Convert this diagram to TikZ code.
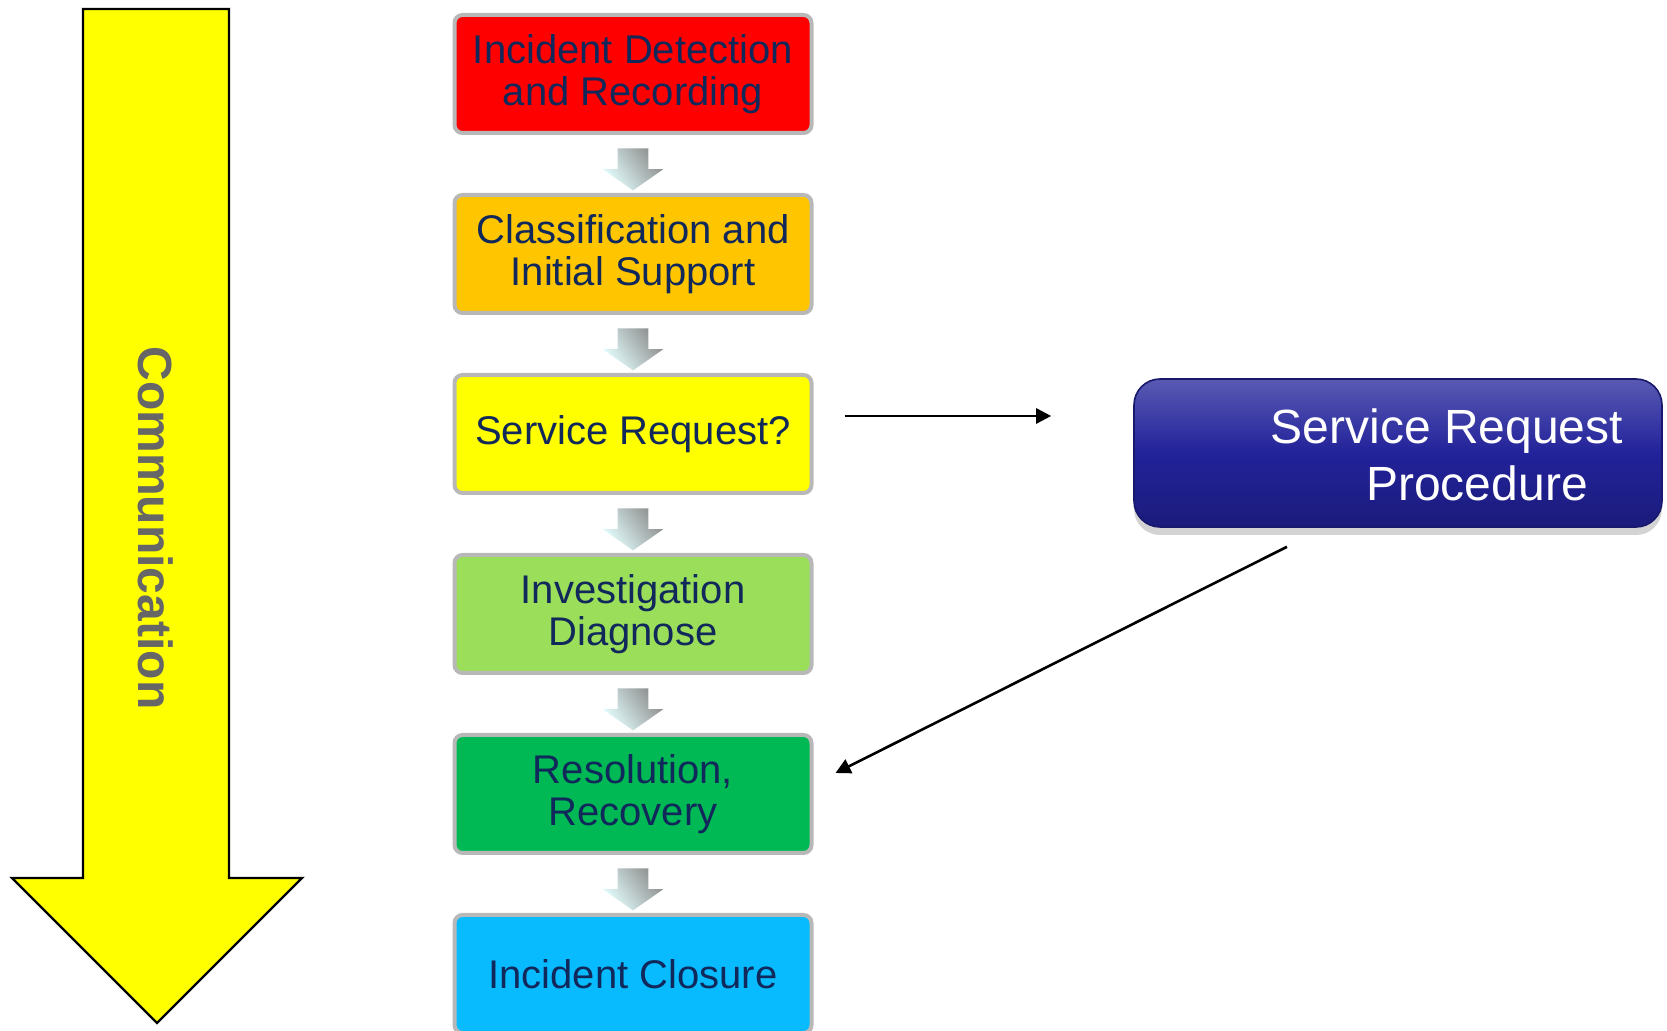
\documentclass[tikz,border=0pt]{standalone}
\usepackage{fontspec}
\setmainfont{Liberation Sans}
\usetikzlibrary{positioning,calc,shapes.arrows,arrows.meta,shadows}
\definecolor{inkblue}{HTML}{10285A}
\definecolor{detectred}{HTML}{FF0000}
\definecolor{classifygold}{HTML}{FFC600}
\definecolor{requestyellow}{HTML}{FFFF00}
\definecolor{diagnosegreen}{HTML}{9BDE5A}
\definecolor{resolvegreen}{HTML}{00B854}
\definecolor{closurecyan}{HTML}{08BBFF}
\definecolor{procblue}{HTML}{22229A}
\definecolor{commgray}{HTML}{666666}
\tikzset{
  stage/.style={draw=black!28, line width=2pt, rounded corners=4pt,
    minimum width=178.5pt, minimum height=59pt, align=center, text=inkblue,
    font=\fontsize{20}{20.75}\selectfont},
  flow/.style={single arrow, shape border rotate=270, draw=none, inner sep=7.5pt,
    minimum height=21pt, single arrow head extend=7.5pt,
    single arrow tip angle=110, shading=axis, left color=cyan!10!white,
    right color=black!45, shading angle=125},
  link/.style={-{Triangle[length=7.5pt,width=7.5pt]}, line width=1.3pt},
}
\begin{document}
\begin{tikzpicture}[x=0.5pt, y=-0.5pt]
  \useasboundingbox (0,0) rectangle (1667,1031);
  % communication arrow
  \draw[fill=requestyellow, line width=1.2pt] (83,9) -- (229,9) -- (229,878) -- (302,878)
    -- (157,1023) -- (12,878) -- (83,878) -- cycle;
  \node[rotate=-90, text=commgray, font=\bfseries\fontsize{24}{24}\selectfont] (comm) at (156,528) {Communication};
  % stages
  \node[stage, fill=detectred] (detect) at (633,74) {Incident Detection\\and Recording};
  \node[stage, fill=classifygold, below=29pt of detect] (classify) {Classification and\\Initial Support};
  \node[stage, fill=requestyellow, below=29pt of classify] (request) {Service Request?};
  \node[stage, fill=diagnosegreen, below=29pt of request] (diagnose) {Investigation\\Diagnose};
  \node[stage, fill=resolvegreen, below=29pt of diagnose] (resolve) {Resolution,\\Recovery};
  \node[stage, fill=closurecyan, below=29pt of resolve] (closure) {Incident Closure};
  \foreach \a/\b in {detect/classify, classify/request, request/diagnose,
                     diagnose/resolve, resolve/closure}
    \node[flow] (\a-\b) at ($(\a.south)!0.5!(\b.north)$) {};
  % service request procedure
  \node[rounded corners=13pt, minimum width=264pt, minimum height=74pt,
    draw=procblue!70!black, line width=0.8pt,
    top color=procblue!75!white, bottom color=procblue!80!black, middle color=procblue,
    drop shadow={shadow xshift=0pt, shadow yshift=-4pt, opacity=0.35}] (proc) at (1398,453) {};
  \node[text=white, align=center, font=\fontsize{24}{28.5}\selectfont] (proctext)
    at ([shift={(49,2)}]proc.center) {Service Request\\\hspace*{30pt}Procedure};
  \draw[link] ([shift={(31,-18)}]request.east) -- ([shift={(-82,-37)}]proc.west);
  \draw[link] ([shift={(-111,19)}]proc.south) -- ([shift={(22,-21)}]resolve.east);
\end{tikzpicture}
\end{document}
